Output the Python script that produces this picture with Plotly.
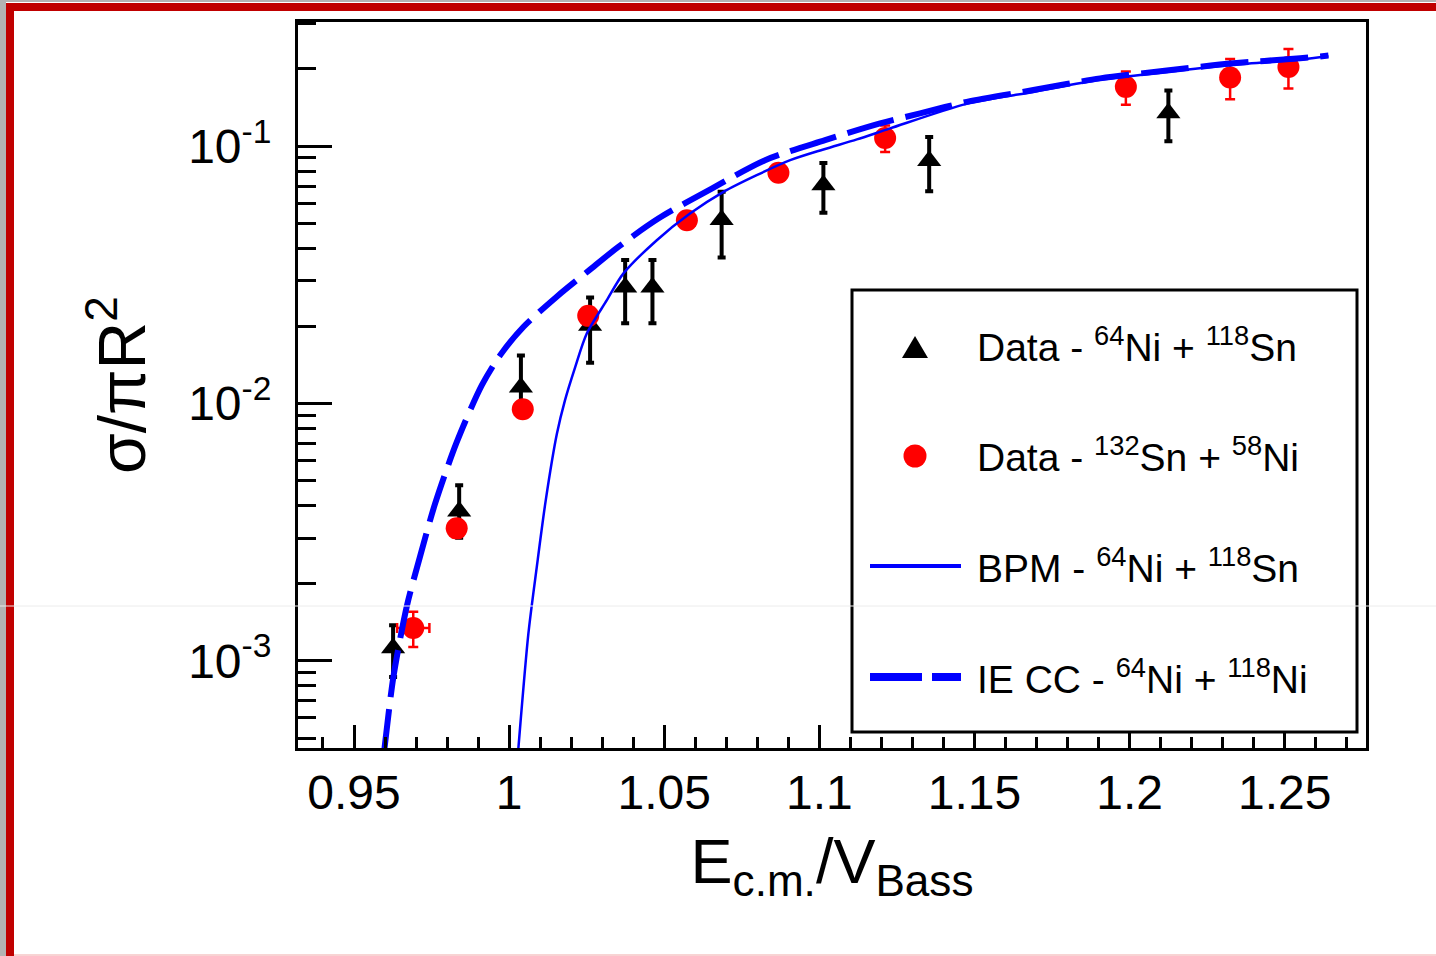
import plotly.graph_objects as go

# ---------------- data ----------------
# Data - 64Ni + 118Sn (black triangles)
ni_x = [0.9626, 0.9839, 1.0038, 1.0261, 1.0374, 1.0462, 1.0685, 1.1013, 1.1354, 1.2125]
ni_y = [1.12e-3, 3.81e-3, 1.156e-2, 2.01e-2, 2.83e-2, 2.83e-2, 5.17e-2, 7.06e-2, 8.77e-2, 0.1345]
ni_err_plus = [0.255e-3, 1.0e-3, 3.8e-3, 5.7e-3, 7.8e-3, 7.8e-3, 1.48e-2, 1.55e-2, 2.09e-2, 3.0e-2]
ni_err_minus = [0.255e-3, 0.8e-3, 2.5e-3, 5.7e-3, 7.8e-3, 7.8e-3, 1.48e-2, 1.55e-2, 2.09e-2, 3.0e-2]

# Data - 132Sn + 58Ni (red circles)
sn_x = [0.9691, 0.9831, 1.0044, 1.0255, 1.0573, 1.0868, 1.1212, 1.1988, 1.2324, 1.2512]
sn_y = [1.34e-3, 3.27e-3, 9.5e-3, 2.19e-2, 5.15e-2, 7.88e-2, 0.1076, 0.170, 0.185, 0.203]
sn_err = [0.21e-3, 0.25e-3, 0.6e-3, 1.2e-3, 2.0e-3, 3.0e-3, 1.28e-2, 2.5e-2, 3.3e-2, 3.55e-2]
sn_xerr = [0.0052, 0, 0, 0, 0, 0, 0, 0, 0, 0]

# BPM - 64Ni + 118Sn (thin solid)
bpm_x = [1.0026, 1.0030, 1.0062, 1.0089, 1.0118, 1.0154, 1.0180, 1.0213, 1.0250, 1.0315,
         1.0368, 1.0476, 1.0583, 1.0691, 1.0798, 1.0906, 1.1013, 1.1121, 1.1228, 1.1475,
         1.1690, 1.1905, 1.2120, 1.2335, 1.2550, 1.2641]
bpm_y = [4.0e-4, 4.6e-4, 1.271e-3, 2.307e-3, 4.20e-3, 7.62e-3, 1.028e-2, 1.384e-2, 1.866e-2, 2.52e-2,
         3.196e-2, 4.31e-2, 5.47e-2, 6.64e-2, 7.71e-2, 8.82e-2, 9.71e-2, 0.1062, 0.1172, 0.1460,
         0.1625, 0.1810, 0.1940, 0.2070, 0.2170, 0.2235]

# IE CC - 64Ni + 118Ni (thick dashed)
iecc_x = [0.95951, 0.95999, 0.96267, 0.96699, 0.97128, 0.97611, 0.98311, 0.99117, 0.99707, 1.00458,
          1.01535, 1.02576, 1.03520, 1.04810, 1.06531, 1.08250, 1.10184, 1.11957, 1.13246, 1.14752,
          1.16899, 1.19049, 1.21199, 1.23346, 1.25496, 1.26409]
iecc_y = [4.23e-4, 4.74e-4, 8.61e-4, 1.622e-3, 2.54e-3, 4.07e-3, 7.07e-3, 1.175e-2, 1.538e-2, 1.982e-2,
          2.60e-2, 3.29e-2, 4.06e-2, 5.23e-2, 6.84e-2, 8.82e-2, 0.1055, 0.1226, 0.1340, 0.1487,
          0.1652, 0.1834, 0.1967, 0.2098, 0.2195, 0.2249]

# ticks
x_tickvals = [0.95, 1.0, 1.05, 1.1, 1.15, 1.2, 1.25]
x_ticktext = ["0.95", "1", "1.05", "1.1", "1.15", "1.2", "1.25"]
x_minor = [0.94, 0.96, 0.97, 0.98, 0.99, 1.01, 1.02, 1.03, 1.04, 1.06, 1.07, 1.08, 1.09,
           1.11, 1.12, 1.13, 1.14, 1.16, 1.17, 1.18, 1.19, 1.21, 1.22, 1.23, 1.24, 1.26, 1.27]
y_tickvals = [1e-3, 1e-2, 1e-1]
y_ticktext = ["10<sup>-3</sup>", "10<sup>-2</sup>", "10<sup>-1</sup>"]
y_minor = [5e-4, 6e-4, 7e-4, 8e-4, 9e-4, 2e-3, 3e-3, 4e-3, 5e-3, 6e-3, 7e-3, 8e-3, 9e-3,
           2e-2, 3e-2, 4e-2, 5e-2, 6e-2, 7e-2, 8e-2, 9e-2, 2e-1, 3e-1]

legend_labels = [
    "Data - <sup>64</sup>Ni + <sup>118</sup>Sn",
    "Data - <sup>132</sup>Sn + <sup>58</sup>Ni",
    "BPM - <sup>64</sup>Ni + <sup>118</sup>Sn",
    "IE CC - <sup>64</sup>Ni + <sup>118</sup>Ni",
]

# ---------------- layout geometry ----------------
W, H = 1436, 956
L, R, T, B = 298, 1366, 22, 748
FONT = "Liberation Sans, Arial, Helvetica, sans-serif"
BLUE = "#0000ff"


def px(xp):
    return (xp - L) / (R - L)


def py(yp):
    return (B - yp) / (B - T)


fig = go.Figure()

fig.add_trace(go.Scatter(
    x=ni_x, y=ni_y, mode="markers", name="Data - 64Ni + 118Sn",
    marker=dict(symbol="triangle-up", size=21, color="black"),
    error_y=dict(type="data", symmetric=False, array=ni_err_plus, arrayminus=ni_err_minus,
                 color="black", thickness=4, width=4),
))
fig.add_trace(go.Scatter(
    x=sn_x, y=sn_y, mode="markers", name="Data - 132Sn + 58Ni",
    marker=dict(symbol="circle", size=22, color="red"),
    error_y=dict(type="data", array=sn_err, color="red", thickness=2.5, width=5),
    error_x=dict(type="data", array=sn_xerr, color="red", thickness=2.5, width=5),
))
fig.add_trace(go.Scatter(
    x=bpm_x, y=bpm_y, mode="lines", name="BPM - 64Ni + 118Sn",
    line=dict(color=BLUE, width=2.5, shape="spline", smoothing=0.8),
))
fig.add_trace(go.Scatter(
    x=iecc_x, y=iecc_y, mode="lines", name="IE CC - 64Ni + 118Ni",
    line=dict(color=BLUE, width=6, dash="48px,12px", shape="spline", smoothing=0.8),
))

shapes = []
# outer gray / red border
shapes.append(dict(type="rect", xref="paper", yref="paper", x0=px(0), x1=px(6), y0=py(956), y1=py(0),
                   fillcolor="#b3b3b3", line=dict(width=0), layer="above"))
shapes.append(dict(type="rect", xref="paper", yref="paper", x0=px(0), x1=px(1436), y0=py(2), y1=py(0),
                   fillcolor="#b3b3b3", line=dict(width=0), layer="above"))
shapes.append(dict(type="rect", xref="paper", yref="paper", x0=px(6), x1=px(14), y0=py(956), y1=py(3),
                   fillcolor="#c00000", line=dict(width=0), layer="above"))
shapes.append(dict(type="rect", xref="paper", yref="paper", x0=px(6), x1=px(1436), y0=py(11), y1=py(3),
                   fillcolor="#c00000", line=dict(width=0), layer="above"))
shapes.append(dict(type="line", xref="paper", yref="paper", x0=px(14), x1=px(1436), y0=py(955), y1=py(955),
                   line=dict(color="#f0a8a8", width=1), layer="above"))

# legend box
shapes.append(dict(type="rect", xref="paper", yref="paper", x0=px(852), x1=px(1357), y0=py(732), y1=py(290),
                   fillcolor="white", line=dict(color="black", width=3), layer="above"))
# legend samples
tri_cx, tri_cy, tri_w, tri_h = 915, 347, 26, 22
shapes.append(dict(type="path", xref="paper", yref="paper",
                   path="M {:.5f},{:.5f} L {:.5f},{:.5f} L {:.5f},{:.5f} Z".format(
                       px(tri_cx - tri_w / 2), py(tri_cy + tri_h / 2),
                       px(tri_cx + tri_w / 2), py(tri_cy + tri_h / 2),
                       px(tri_cx), py(tri_cy - tri_h / 2)),
                   fillcolor="black", line=dict(width=0), layer="above"))
shapes.append(dict(type="circle", xref="paper", yref="paper", x0=px(903.5), x1=px(926.5),
                   y0=py(467.5), y1=py(444.5), fillcolor="red", line=dict(width=0), layer="above"))
shapes.append(dict(type="line", xref="paper", yref="paper", x0=px(870), x1=px(961), y0=py(566), y1=py(566),
                   line=dict(color=BLUE, width=4), layer="above"))
shapes.append(dict(type="line", xref="paper", yref="paper", x0=px(870), x1=px(961), y0=py(677), y1=py(677),
                   line=dict(color=BLUE, width=8, dash="52px,10px"), layer="above"))
# faint scan line artifact
shapes.append(dict(type="line", xref="paper", yref="paper", x0=px(0), x1=px(1436), y0=py(606), y1=py(606),
                   line=dict(color="#ececec", width=1), layer="above"))

annotations = []
legend_y = [344, 454, 565, 676]
for txt, yy in zip(legend_labels, legend_y):
    annotations.append(dict(text=txt, xref="paper", yref="paper", x=px(975), y=py(yy),
                            xanchor="left", yanchor="middle", showarrow=False,
                            font=dict(family=FONT, size=39, color="black")))

fig.update_layout(
    width=W, height=H, autosize=False,
    margin=dict(l=L, r=W - R, t=T, b=H - B, pad=0),
    paper_bgcolor="white", plot_bgcolor="white",
    showlegend=False,
    font=dict(family=FONT, color="black"),
    shapes=shapes, annotations=annotations,
    xaxis=dict(
        range=[0.93195, 1.2762], showline=True, linewidth=3, linecolor="black", mirror=True,
        ticks="inside", ticklen=23, tickwidth=3, tickcolor="black",
        tickmode="array", tickvals=x_tickvals, ticktext=x_ticktext,
        tickfont=dict(family=FONT, size=48, color="black"),
        ticklabelstandoff=0,
        showgrid=False, zeroline=False,
        minor=dict(tickmode="array", tickvals=x_minor, ticks="inside", ticklen=11,
                   tickwidth=3, tickcolor="black", showgrid=False),
        title=dict(text="E<sub>c.m.</sub>/V<sub>Bass</sub>",
                   font=dict(family=FONT, size=63, color="black"), standoff=22),
    ),
    yaxis=dict(
        type="log", range=[-3.339, -0.5175], showline=True, linewidth=3, linecolor="black", mirror=True,
        ticks="inside", ticklen=34, tickwidth=3, tickcolor="black",
        tickmode="array", tickvals=y_tickvals, ticktext=y_ticktext,
        tickfont=dict(family=FONT, size=48, color="black"),
        ticklabelstandoff=14,
        showgrid=False, zeroline=False,
        minor=dict(tickmode="array", tickvals=y_minor, ticks="inside", ticklen=18,
                   tickwidth=3, tickcolor="black", showgrid=False),
        title=dict(text="σ/πR<sup>2</sup>",
                   font=dict(family=FONT, size=66, color="black"), standoff=22),
    ),
)

fig.write_html("out.html", config={"displayModeBar": False},
               post_script="document.body.style.margin='0';document.body.style.overflow='hidden';")
